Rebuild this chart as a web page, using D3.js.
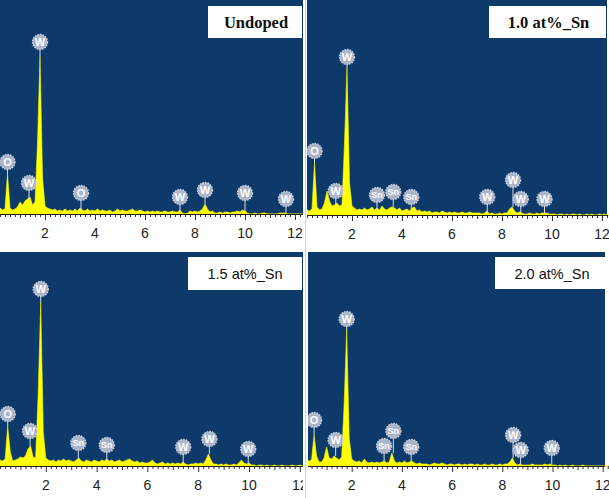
<!DOCTYPE html>
<html>
<head>
<meta charset="utf-8">
<script src="https://cdn.jsdelivr.net/npm/d3@7"></script>
<style>
  body { margin: 0; background: #fff; }
  svg { display: block; }
</style>
</head>
<body>
<div id="chart"></div>
<script>
const width = 609;
const height = 498;

const titles = ["Undoped", "1.0 at%_Sn", "1.5 at%_Sn", "2.0 at%_Sn"];
const tickLabels = [2, 4, 6, 8, 10, 12];

// channel width of the spectra, keV (first channel at 0 keV)
const keVStep = 0.1;

// counts per channel, 0.0 .. 12.4 keV
const undopedCounts = [
  7, 7, 6, 4, 5, 40, 6, 4, 5, 7,
  12, 9, 13, 15, 17, 9, 12, 70, 158, 36,
  8, 6, 5, 4, 5, 3, 4, 3, 5, 3,
  4, 3, 5, 3, 6, 4, 3, 5, 3, 4,
  3, 5, 3, 4, 3, 3, 4, 2, 3, 5,
  3, 4, 3, 3, 4, 5, 3, 3, 4, 3,
  2, 3, 2, 3, 2, 3, 2, 2, 3, 2,
  2, 3, 2, 2, 4, 1, 0, 1, 3, 2,
  3, 2, 3, 5, 10, 5, 2, 3, 1, 1,
  2, 1, 2, 2, 1, 2, 2, 3, 2, 4,
  3, 1, 0, 0, 1, 0, 0, 1, 1, 0,
  0, 0, 0, 0, 1, 1, 1, 0, 0, 0,
  0, 0, 0, 0, 0
];
const sn10Counts = [
  5, 5, 5, 4, 6, 52, 8, 5, 6, 12,
  24, 14, 9, 10, 12, 9, 10, 72, 147, 32,
  9, 7, 5, 6, 5, 7, 5, 6, 8, 5,
  7, 5, 9, 6, 5, 7, 8, 7, 5, 7,
  4, 5, 6, 4, 7, 8, 4, 5, 3, 4,
  3, 4, 2, 3, 3, 2, 4, 3, 2, 3,
  2, 3, 2, 2, 3, 2, 2, 3, 2, 2,
  2, 2, 1, 2, 4, 1, 2, 1, 1, 2,
  1, 2, 2, 6, 8, 4, 2, 3, 2, 1,
  1, 2, 1, 1, 2, 1, 2, 2, 2, 1,
  1, 1, 0, 1, 1, 0, 1, 0, 1, 1,
  0, 1, 0, 0, 1, 0, 1, 0, 0, 1,
  0, 1, 0, 0, 0
];
const sn15Counts = [
  6, 6, 6, 5, 7, 40, 14, 5, 6, 7,
  9, 8, 10, 17, 20, 9, 8, 72, 163, 34,
  8, 6, 5, 6, 4, 6, 5, 7, 5, 6,
  5, 4, 6, 8, 5, 4, 6, 5, 4, 6,
  5, 4, 6, 5, 7, 5, 6, 4, 5, 6,
  4, 5, 6, 7, 5, 4, 5, 3, 4, 3,
  3, 4, 6, 3, 2, 3, 4, 2, 3, 2,
  3, 2, 3, 2, 4, 2, 1, 2, 2, 3,
  2, 3, 2, 6, 12, 6, 2, 2, 1, 2,
  1, 2, 1, 1, 2, 1, 3, 6, 3, 2,
  3, 1, 1, 0, 1, 1, 0, 1, 0, 0,
  1, 0, 0, 1, 0, 0, 0, 1, 0, 0,
  1, 0, 0, 0, 0
];
const sn20Counts = [
  6, 6, 6, 5, 6, 31, 10, 4, 4, 8,
  19, 8, 7, 10, 8, 6, 9, 62, 136, 28,
  7, 5, 4, 5, 3, 7, 4, 3, 4, 3,
  4, 3, 4, 5, 3, 4, 13, 5, 3, 4,
  3, 5, 3, 4, 5, 3, 2, 3, 2, 2,
  2, 1, 2, 3, 2, 2, 3, 2, 1, 2,
  2, 1, 2, 2, 1, 2, 1, 2, 2, 1,
  2, 1, 1, 2, 1, 1, 2, 1, 1, 2,
  1, 2, 2, 4, 8, 3, 1, 2, 1, 1,
  1, 1, 2, 1, 1, 1, 1, 2, 1, 2,
  1, 1, 0, 1, 0, 1, 0, 0, 1, 0,
  0, 0, 1, 0, 0, 0, 0, 0, 0, 0,
  0, 0, 0, 0, 0
];

// peak markers: [element, keV, counts at stem foot, counts at label centre]
const undopedPeaks = [
  ["O", 0.5, 40, 52], ["W", 1.36, 15, 31], ["W", 1.8, 158, 172], ["O", 3.44, 4, 21],
  ["W", 7.4, 3, 17], ["W", 8.4, 10, 24], ["W", 10.0, 3, 21], ["W", 11.64, 1, 15]
];
const sn10Peaks = [
  ["O", 0.5, 52, 64], ["W", 1.35, 10, 24], ["W", 1.8, 147, 158], ["Sn", 3.0, 5, 20],
  ["Sn", 3.65, 8, 23], ["Sn", 4.37, 5, 18], ["W", 7.41, 2, 18], ["W", 8.44, 8, 35],
  ["W", 8.75, 2, 16], ["W", 9.7, 2, 16]
];
const sn15Peaks = [
  ["O", 0.5, 40, 52], ["W", 1.38, 20, 35], ["W", 1.8, 163, 177], ["Sn", 3.28, 7, 23],
  ["Sn", 4.4, 6, 21], ["W", 7.41, 3, 19], ["W", 8.44, 12, 27], ["W", 9.97, 2, 17]
];
const sn20Peaks = [
  ["O", 0.5, 31, 46], ["W", 1.36, 10, 26], ["W", 1.8, 136, 147], ["Sn", 3.29, 5, 20],
  ["Sn", 3.66, 13, 35], ["Sn", 4.37, 5, 19], ["W", 8.43, 8, 31], ["W", 8.73, 2, 16],
  ["W", 9.97, 2, 18]
];

const blue = "#0e3a6b";
const serifFont = "'Liberation Serif', 'Times New Roman', serif";
const sansFont = "'Liberation Sans', Arial, sans-serif";

const panels = [
  { title: titles[0], counts: undopedCounts, peaks: undopedPeaks, cellLeft: 0, cellRight: 303, blueRight: 303,
    top: 0, axisY: 214, x0: -5, pxPerKeV: 25, box: [208, 6, 94, 32], serif: true },
  { title: titles[1], counts: sn10Counts, peaks: sn10Peaks, cellLeft: 307, cellRight: 609, blueRight: 607,
    top: 0, axisY: 215, x0: 302, pxPerKeV: 25, box: [489, 6, 117, 32], serif: true },
  { title: titles[2], counts: sn15Counts, peaks: sn15Peaks, cellLeft: 0, cellRight: 303, blueRight: 303,
    top: 252, axisY: 466, x0: -5, pxPerKeV: 25.4, box: [188, 257, 114, 33], serif: false },
  { title: titles[3], counts: sn20Counts, peaks: sn20Peaks, cellLeft: 308, cellRight: 609, blueRight: 605,
    top: 252, axisY: 466, x0: 301.5, pxPerKeV: 25.1, box: [495, 257, 114, 32], serif: false }
];

let svg = d3
  .select("#chart")
  .append("svg")
  .attr("width", width)
  .attr("height", height);

svg.append("rect").attr("width", width).attr("height", height).attr("fill", "#fff");

// thin divider between the two columns
svg
  .append("line")
  .attr("x1", 305.5)
  .attr("x2", 305.5)
  .attr("y1", 0)
  .attr("y2", height)
  .attr("stroke", "#cfcfcf");

function drawPanel(p, idx) {
  const clipId = "clip" + idx;
  svg
    .append("clipPath")
    .attr("id", clipId)
    .append("rect")
    .attr("x", p.cellLeft)
    .attr("y", p.top)
    .attr("width", p.cellRight - p.cellLeft)
    .attr("height", p.axisY - p.top + 32);

  const g = svg.append("g").attr("clip-path", `url(#${clipId})`);

  const x = d3.scaleLinear().domain([0, 12]).range([p.x0, p.x0 + 12 * p.pxPerKeV]);
  const y = d3.scaleLinear().domain([0, 214]).range([p.axisY, p.axisY - 214]);

  g.append("rect")
    .attr("x", p.cellLeft)
    .attr("y", p.top)
    .attr("width", p.blueRight - p.cellLeft)
    .attr("height", p.axisY - p.top)
    .attr("fill", blue);

  const area = d3
    .area()
    .x((d, i) => x(i * keVStep))
    .y0(p.axisY)
    .y1((d) => y(d));

  g.append("path")
    .datum(p.counts)
    .attr("d", area)
    .attr("fill", "#ffff00")
    .attr("stroke", "#ffff00")
    .attr("stroke-width", 0.6);

  // x axis with minor ticks every 0.2 keV
  const axis = d3
    .axisBottom(x)
    .tickValues(d3.range(0, 62).map((i) => i * 0.2))
    .tickSize(3)
    .tickFormat("");
  const ax = g.append("g").attr("transform", `translate(0, ${p.axisY})`).call(axis);
  ax.select(".domain").remove();
  ax.selectAll(".tick line").attr("stroke", "#333");
  ax.selectAll(".tick line")
    .filter((d) => Math.abs(d - Math.round(d)) < 1e-6)
    .attr("y2", (d) => (Math.round(d) % 2 === 0 ? 6 : 4));

  g.append("line")
    .attr("x1", p.cellLeft)
    .attr("x2", p.blueRight)
    .attr("y1", p.axisY + 0.5)
    .attr("y2", p.axisY + 0.5)
    .attr("stroke", "#222");

  g.selectAll(".tick-label")
    .data(tickLabels)
    .enter()
    .append("text")
    .attr("class", "tick-label")
    .attr("x", (d) => x(d))
    .attr("y", p.axisY + 24)
    .attr("text-anchor", "middle")
    .attr("font-family", sansFont)
    .attr("font-size", 14)
    .attr("fill", "#222")
    .text((d) => d);

  // element markers
  const marks = g
    .selectAll(".peak")
    .data(p.peaks)
    .enter()
    .append("g")
    .attr("class", "peak")
    .attr("transform", (d) => `translate(${x(d[1])}, 0)`);

  marks
    .append("line")
    .attr("y1", (d) => y(d[3]) + 7.5)
    .attr("y2", (d) => y(d[2]))
    .attr("stroke", "#d6dbe5")
    .attr("stroke-width", 1);

  marks
    .append("circle")
    .attr("cy", (d) => y(d[3]))
    .attr("r", 7.5)
    .attr("fill", "#aab5c9")
    .attr("stroke", "#d3d8e3")
    .attr("stroke-width", 1.3)
    .attr("stroke-dasharray", "1.6 1.1");

  marks
    .append("text")
    .attr("y", (d) => y(d[3]))
    .attr("dy", "0.36em")
    .attr("text-anchor", "middle")
    .attr("font-family", sansFont)
    .attr("font-weight", "bold")
    .attr("font-size", (d) => (d[0] === "Sn" ? 9 : 11))
    .attr("fill", "#fff")
    .text((d) => d[0]);

  // sample label
  const [bx, by, bw, bh] = p.box;
  svg
    .append("rect")
    .attr("x", bx)
    .attr("y", by)
    .attr("width", bw)
    .attr("height", bh)
    .attr("fill", "#fff");

  svg
    .append("text")
    .attr("x", bx + bw / 2 + (p.serif ? 1 : 0))
    .attr("y", by + 22)
    .attr("text-anchor", "middle")
    .attr("font-family", p.serif ? serifFont : sansFont)
    .attr("font-weight", p.serif ? "bold" : "normal")
    .attr("font-size", p.serif ? 16.5 : 14.5)
    .attr("fill", "#111")
    .text(p.title);
}

panels.forEach(drawPanel);
</script>
</body>
</html>
